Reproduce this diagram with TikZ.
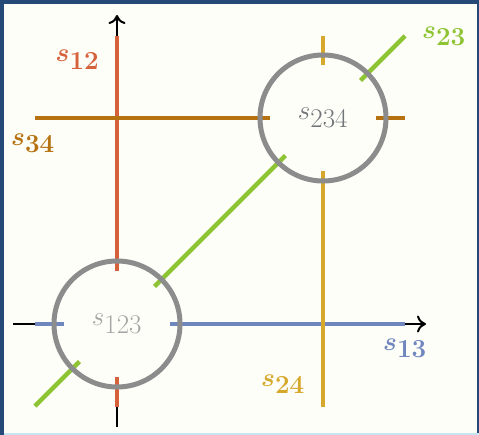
\documentclass[tikz,border=0pt]{standalone}
\usepackage{fix-cm}
\usepackage{tikz}
\usetikzlibrary{arrows.meta}

\definecolor{frameblue}{RGB}{38,74,120}
\definecolor{edgeblue}{RGB}{200,228,240}
\definecolor{paper}{RGB}{254,254,248}
\definecolor{sred}{RGB}{214,98,60}
\definecolor{sbrown}{RGB}{182,114,16}
\definecolor{syellow}{RGB}{214,168,44}
\definecolor{sgreen}{RGB}{142,196,52}
\definecolor{sblue}{RGB}{112,134,190}
\definecolor{ringgray}{RGB}{140,140,140}
\definecolor{lightlab}{RGB}{165,165,165}
\definecolor{darklab}{RGB}{112,116,120}

\begin{document}
\begin{tikzpicture}[x=1pt, y=-1pt,
  axis/.style={line width=2pt, -{Computer Modern Rightarrow[length=9pt,width=17pt]}},
  sline/.style={line width=4.5pt},
  ring/.style={draw=ringgray, circle, line width=5pt, minimum size=126pt, inner sep=0pt,
    font=\fontsize{27}{32}\selectfont},
  lab/.style={inner sep=0pt, font=\fontsize{26}{30}\selectfont\boldmath}]

  % Frame and paper
  \fill[frameblue] (0,0) rectangle (479,435);
  \fill[paper] (4,4) rectangle (477,433);
  \fill[edgeblue] (4,433) rectangle (479,435);

  % Centres of the two circles
  \coordinate (p123) at (117,324);
  \coordinate (p234) at (323,118);

  % End points
  \coordinate (axs) at (117,427);
  \coordinate (axn) at (117,15);
  \coordinate (axw) at (13,324);
  \coordinate (axe) at (426,324);
  \coordinate (s12a) at (117,407);
  \coordinate (s12b) at (117,36);
  \coordinate (s13a) at (35,324);
  \coordinate (s13b) at (405,324);
  \coordinate (s34a) at (35,118);
  \coordinate (s34b) at (405,118);
  \coordinate (s24a) at (323,36);
  \coordinate (s24b) at (323,407);
  \coordinate (s23a) at (35,406);
  \coordinate (s23b) at (405,36);

  % Axes
  \draw[axis] (axs) -- (axn);
  \draw[axis] (axw) -- (axe);

  % Coloured lines
  \draw[sline, sred] (s12a) -- (s12b);
  \draw[sline, sblue] (s13a) -- (s13b);
  \draw[sline, sgreen] (s23a) -- (s23b);
  \draw[sline, sbrown] (s34a) -- (s34b);
  \draw[sline, syellow] (s24a) -- (s24b);

  % Holes inside the circles
  \fill[paper] (p123) circle[radius=53pt];
  \fill[paper] (p234) circle[radius=53pt];

  % Circles
  \node[ring, text=lightlab] (c123) at (p123) {$s_{\textstyle 123}$};
  \node[ring, text=darklab] (c234) at (p234) {$s_{\textstyle 234}$};

  % Labels
  \node[lab, sred] (l12) at (77.5,59.5) {$s_{\textstyle 12}$};
  \node[lab, sbrown] (l34) at (33,143) {$s_{\textstyle 34}$};
  \node[lab, sgreen] (l23) at (444,36) {$s_{\textstyle 23}$};
  \node[lab, sblue] (l13) at (405,348) {$s_{\textstyle 13}$};
  \node[lab, syellow] (l24) at (283,384) {$s_{\textstyle 24}$};
\end{tikzpicture}
\end{document}
